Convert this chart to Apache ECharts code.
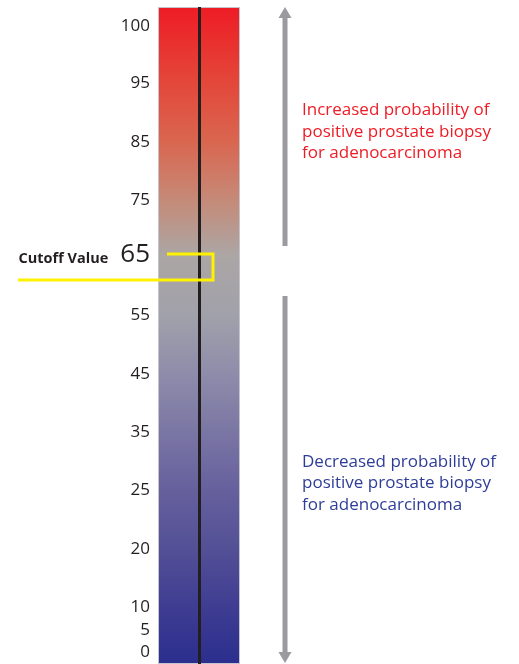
<!DOCTYPE html>
<html>
<head>
<meta charset="utf-8">
<script src="https://cdn.jsdelivr.net/npm/echarts@6/dist/echarts.min.js"></script>
<style>
html,body{margin:0;padding:0;background:#fff;}
#c{width:519px;height:664px;}
</style>
</head>
<body>
<div id="c"></div>
<script>
// ---- data ----
const tickLabels = ['0', '5', '10', '20', '25', '35', '45', '55', '65', '75', '85', '95', '100'];
// position of each tick along the (non-linear) scale, bottom = 0
const tickPos = [11.5, 34, 56.5, 115, 174, 232, 290, 349, 409.5, 464, 521.5, 581, 638];
const scaleMax = 657;
const cutoffLabel = '65';
const cutoffLevel = 384;
const gradOffsets = [0, 0.116, 0.205, 0.294, 0.377, 0.469, 0.559, 0.647, 0.735, 0.825, 0.913, 1];
const gradColors = ['#ee1c25', '#e3483a', '#d96650', '#c58a78', '#aca6a4', '#a1a1ab', '#8e8caa', '#7a76a4', '#66609d', '#535096', '#3f3d92', '#2b2e8e'];
const upperText = 'Increased probability of\npositive prostate biopsy\nfor adenocarcinoma';
const lowerText = 'Decreased probability of\npositive prostate biopsy\nfor adenocarcinoma';
const upperArrowFrom = 418;
const lowerArrowFrom = 368;

const chart = echarts.init(document.getElementById('c'), null, {renderer: 'canvas'});
const font = '"Open Sans", Lato, sans-serif';

function labelFor(v) {
  let best = 0;
  for (let i = 1; i < tickPos.length; i++) {
    if (Math.abs(tickPos[i] - v) < Math.abs(tickPos[best] - v)) best = i;
  }
  return tickLabels[best];
}

chart.setOption({
  animation: false,
  grid: {left: 158, width: 82, top: 7, bottom: 0, containLabel: false},
  xAxis: {type: 'category', data: ['scale'], show: false},
  yAxis: {
    type: 'value', min: 0, max: scaleMax,
    axisLine: {show: false}, axisTick: {show: false}, splitLine: {show: false},
    axisLabel: {
      customValues: tickPos,
      margin: 8,
      color: '#231f20',
      fontSize: 17,
      fontFamily: font,
      formatter: function (v) {
        const t = labelFor(v);
        return t === cutoffLabel ? '{cut|Cutoff Value}{big|' + t + '}' : t;
      },
      rich: {
        cut: {fontSize: 14.5, fontWeight: 'bold', fontFamily: font, color: '#231f20', padding: [0, 12, 1, 0], verticalAlign: 'bottom'},
        big: {fontSize: 26, fontFamily: font, color: '#231f20', verticalAlign: 'bottom'}
      }
    }
  },
  series: [{
    type: 'bar',
    data: [scaleMax],
    barWidth: '100%',
    itemStyle: {
      color: new echarts.graphic.LinearGradient(0, 0, 0, 1,
        gradOffsets.map((o, i) => ({offset: o, color: gradColors[i]}))),
      borderColor: '#c4c4cc',
      borderWidth: 1
    },
    markLine: {
      silent: true, symbol: 'none', label: {show: false},
      lineStyle: {color: '#231f20', width: 3, type: 'solid'},
      data: [[{xAxis: 0, yAxis: 0}, {xAxis: 0, yAxis: scaleMax}]]
    }
  }]
});

const p65 = chart.convertToPixel({seriesIndex: 0}, [0, tickPos[tickLabels.indexOf(cutoffLabel)]]);
const pCut = chart.convertToPixel({seriesIndex: 0}, [0, cutoffLevel]);
const pTop = chart.convertToPixel({seriesIndex: 0}, [0, scaleMax]);
const pBot = chart.convertToPixel({seriesIndex: 0}, [0, 0]);
const pUp = chart.convertToPixel({seriesIndex: 0}, [0, upperArrowFrom]);
const pLo = chart.convertToPixel({seriesIndex: 0}, [0, lowerArrowFrom]);
const cx = p65[0];
const ax = 240 + 45;
const gray = '#9a9a9f';

chart.setOption({
  graphic: [
    {type: 'polyline', shape: {points: [[18, pCut[1]], [cx + 14, pCut[1]], [cx + 14, p65[1] - 0.5], [cx - 32, p65[1] - 0.5]]},
      style: {stroke: '#fff200', lineWidth: 3, fill: null}, z: 10},
    {type: 'line', shape: {x1: ax, y1: pUp[1], x2: ax, y2: pTop[1] + 9}, style: {stroke: gray, lineWidth: 5}},
    {type: 'polygon', shape: {points: [[ax, pTop[1]], [ax - 6.5, pTop[1] + 11], [ax + 6.5, pTop[1] + 11]]}, style: {fill: gray}},
    {type: 'line', shape: {x1: ax, y1: pLo[1], x2: ax, y2: pBot[1] - 9}, style: {stroke: gray, lineWidth: 5}},
    {type: 'polygon', shape: {points: [[ax, pBot[1] - 1], [ax - 6.5, pBot[1] - 12], [ax + 6.5, pBot[1] - 12]]}, style: {fill: gray}},
    {type: 'text', x: 302, y: 131.7, style: {text: upperText, fill: '#ee1c25', fontSize: 17, fontFamily: font, lineHeight: 21.6, verticalAlign: 'middle'}},
    {type: 'text', x: 302, y: 483.3, style: {text: lowerText, fill: '#2e3d98', fontSize: 17, fontFamily: font, lineHeight: 21.6, verticalAlign: 'middle'}}
  ]
});
</script>
</body>
</html>
